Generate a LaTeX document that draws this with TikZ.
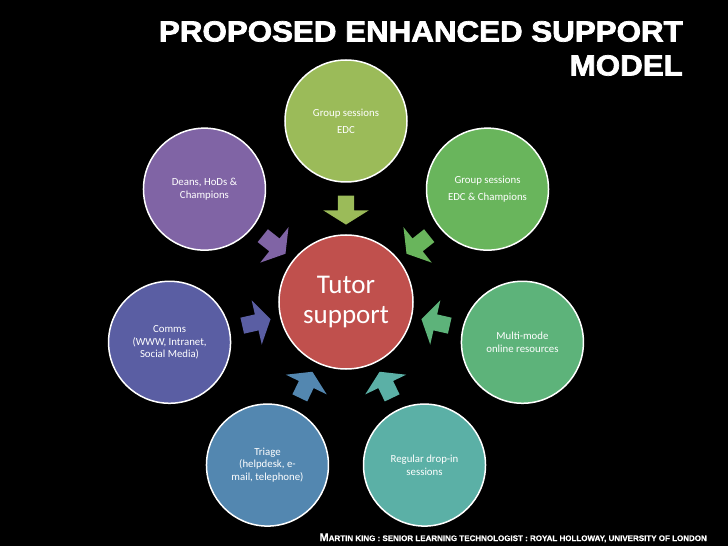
\documentclass[tikz,border=0pt]{standalone}
\usepackage{fontspec}
\setmainfont{Carlito}
\newfontfamily\titlefont{Liberation Sans}[BoldFeatures={FakeBold=2.5,FakeStretch=1.08}]
\newfontfamily\creditfont{Liberation Sans}[BoldFeatures={FakeBold=0.5}]
\usetikzlibrary{calc,shapes.arrows}
\definecolor{hubred}{HTML}{C0504D}
\definecolor{grpedc}{HTML}{9BBB59}
\definecolor{grpchamp}{HTML}{69B55C}
\definecolor{multimode}{HTML}{5DB37A}
\definecolor{dropin}{HTML}{5BB0A6}
\definecolor{triage}{HTML}{5387B0}
\definecolor{comms}{HTML}{5A5EA3}
\definecolor{deans}{HTML}{8064A5}
\newcommand\capsm[1]{{\fontsize{11}{12}\selectfont #1}}
\tikzset{
	bubble/.style={circle,draw=white,line width=1.5pt,minimum size=122pt,inner sep=0pt,
		text=white,align=center,font=\fontsize{10.8}{12.5}\selectfont},
	hub/.style={bubble,minimum size=134pt,font=\fontsize{27}{30}\selectfont},
	feeder/.style={single arrow,draw=none,inner sep=0pt,text height=16pt,text depth=0pt,
		text width=0pt,minimum height=29pt,single arrow head extend=14.5pt,single arrow tip angle=116}
}
\begin{document}
\begin{tikzpicture}[x=1pt,y=1pt]
	\def\rr{181} % hub to outer bubbles
	\def\pos{0.522}
	\fill[black] (-346,-244) rectangle (382,302);
	\useasboundingbox (-346,-244) rectangle (382,302);
	% title and credit
	\node[anchor=north east,align=right,inner sep=0pt,text=white,
		font=\titlefont\bfseries\fontsize{29}{34}\selectfont] (title) at (337,281) {PROPOSED ENHANCED SUPPORT\\MODEL};
	\node[anchor=base east,inner sep=0pt,text=white,font=\creditfont\bfseries\fontsize{8}{9}\selectfont] (credit) at (361,-239)
		{\capsm{M}ARTIN KING : SENIOR LEARNING TECHNOLOGIST : ROYAL HOLLOWAY, UNIVERSITY OF LONDON};
	% hub
	\node[hub,fill=hubred] (tutor) at (0,0) {Tutor\\support};
	% outer bubbles
	\node[bubble,fill=grpedc] (edc) at (90:\rr) {Group sessions\\[4.5pt]EDC};
	\node[bubble,fill=grpchamp] (champ) at (38.57:\rr) {Group sessions\\[4.5pt]EDC \& Champions};
	\node[bubble,fill=multimode] (online) at (-12.86:\rr) {Multi-mode\\online resources};
	\node[bubble,fill=dropin] (dropin) at (-64.29:\rr) {Regular drop-in\\sessions};
	\node[bubble,fill=triage] (triage) at (-115.71:\rr) {Triage\\(helpdesk, e-\\mail, telephone)};
	\node[bubble,fill=comms] (comms) at (-167.14:\rr) {Comms\\(WWW, Intranet,\\Social Media)};
	\node[bubble,fill=deans] (deans) at (141.43:\rr) {Deans, HoDs \&\\Champions};
	% arrows into the hub
	\node[feeder,fill=grpedc,rotate=270] (a1) at ($(tutor)!\pos!(edc)$) {};
	\node[feeder,fill=grpchamp,rotate=218.57] (a2) at ($(tutor)!\pos!(champ)$) {};
	\node[feeder,fill=multimode,rotate=167.14] (a3) at ($(tutor)!\pos!(online)$) {};
	\node[feeder,fill=dropin,rotate=115.71] (a4) at ($(tutor)!\pos!(dropin)$) {};
	\node[feeder,fill=triage,rotate=64.29] (a5) at ($(tutor)!\pos!(triage)$) {};
	\node[feeder,fill=comms,rotate=12.86] (a6) at ($(tutor)!\pos!(comms)$) {};
	\node[feeder,fill=deans,rotate=321.43] (a7) at ($(tutor)!\pos!(deans)$) {};
\end{tikzpicture}
\end{document}
